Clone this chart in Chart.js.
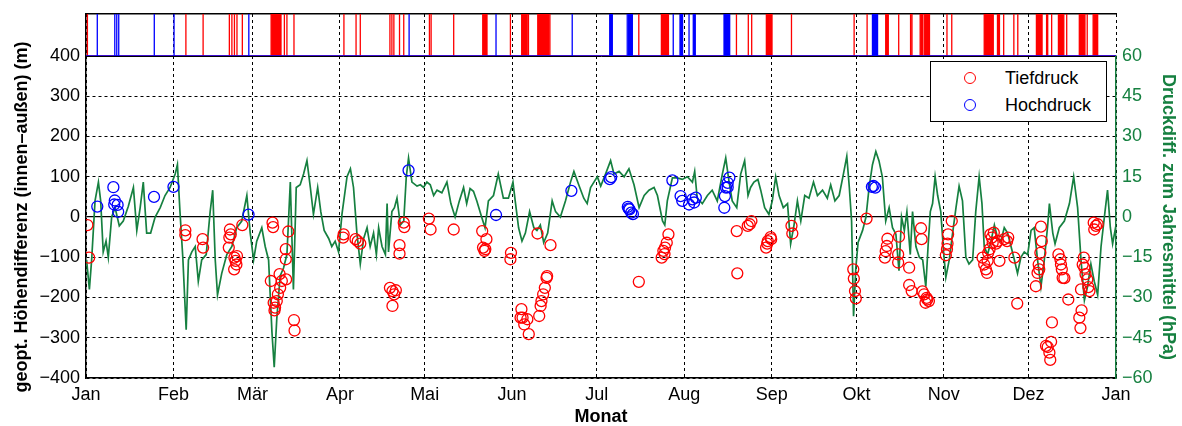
<!DOCTYPE html>
<html>
<head>
<meta charset="utf-8">
<script src="https://cdn.jsdelivr.net/npm/chart.js@4.4.1/dist/chart.umd.min.js"></script>
<style>
  body { margin: 0; background: #fff; }
  #wrap { position: relative; width: 1182px; height: 426px; }
  #legend { position: absolute; left: 930px; top: 61px; width: 177px; height: 61px; box-sizing: border-box;
            border: 1.5px solid #000; background: #fff; font: 18px "Liberation Sans", Arial, sans-serif; color: #000; }
  #legend .row { position: absolute; left: 0; height: 22px; line-height: 22px; }
  #legend .mk { position: absolute; left: 33px; top: 5px; width: 10px; height: 10px; border: 1.4px solid; border-radius: 50%; }
  #legend .txt { position: absolute; left: 74px; top: 0; white-space: nowrap; }
</style>
</head>
<body>
<div id="wrap">
  <canvas id="chart" width="1182" height="426"></canvas>
  <div id="legend">
    <div class="row" style="top:5px"><span class="mk" style="border-color:#ff0000"></span><span class="txt">Tiefdruck</span></div>
    <div class="row" style="top:32px"><span class="mk" style="border-color:#0000ff"></span><span class="txt">Hochdruck</span></div>
  </div>
</div>
<script>
const green = '#168040';
const font = '"Liberation Sans", Arial, sans-serif';

// month starts (day of year) and labels
const monthDays = [0, 31, 59, 90, 120, 151, 181, 212, 243, 273, 304, 334, 365];
const monthLabels = ['Jan', 'Feb', 'Mär', 'Apr', 'Mai', 'Jun', 'Jul', 'Aug', 'Sep', 'Okt', 'Nov', 'Dez', 'Jan'];
const leftTicks = [-400, -300, -200, -100, 0, 100, 200, 300, 400];
const rightTicks = [-60, -45, -30, -15, 0, 15, 30, 45, 60];

// top strip: event periods [start day, end day]
const lowPeriods = [
  [0.5, 0.5], [35.4, 35.4], [41.5, 41.5], [50.8, 50.8], [51.7, 51.7], [52.6, 52.6], [53.5, 53.5], [55.4, 55.4],
  [65.6, 69.1], [70.3, 70.3], [71.2, 71.2], [73.7, 73.7], [91.4, 91.4], [95.7, 95.7], [97.2, 97.2],
  [107.7, 107.7], [108.4, 108.4], [109.1, 109.1], [111.1, 111.1], [112.6, 112.6], [121.7, 121.7], [122.3, 122.3],
  [130.3, 130.3], [140.6, 142.1], [150.4, 150.4], [154.4, 156.3], [156.8, 156.8], [160.1, 163.9], [164.4, 164.4],
  [195.9, 195.9], [203.9, 206.4], [230.5, 230.5], [234.7, 234.7], [235.9, 235.9], [241.1, 243.1], [250.0, 250.0],
  [272.2, 272.2], [276.8, 276.8], [283.4, 284.3], [288.0, 288.0], [292.2, 292.2], [292.7, 292.7], [295.6, 296.4],
  [297.0, 298.9], [305.1, 305.1], [306.8, 306.8], [318.3, 321.5], [323.0, 323.7], [325.2, 325.2], [328.8, 328.8],
  [330.2, 330.2], [336.8, 338.8], [340.4, 340.8], [342.2, 342.2], [344.6, 346.5], [347.4, 347.6], [352.0, 354.0],
  [354.8, 354.8], [356.9, 358.5]
];
const highPeriods = [
  [4.0, 4.0], [10.2, 10.2], [10.9, 10.9], [11.6, 11.6], [24.2, 24.2], [31.2, 31.2], [57.7, 57.7], [114.5, 114.5],
  [145.3, 145.3], [172.3, 172.3], [185.6, 186.5], [191.8, 191.8], [192.3, 193.6], [208.1, 208.1], [210.5, 211.4],
  [213.7, 213.7], [215.2, 215.9], [226.1, 228.1], [278.7, 280.5]
];

// geopotential height difference (m) at low / high pressure situations: [day, m]
const lowPoints = [
  [0.5, -20], [1.1, -101], [35.2, -33], [35.2, -45], [41.3, -55], [41.5, -76],
  [51.0, -31], [50.8, -51], [50.6, -76], [51.3, -43], [52.6, -101], [53.0, -109], [52.5, -130], [53.3, -118], [53.5, -97],
  [55.4, -20], [66.1, -14], [66.3, -25], [65.5, -159], [66.5, -213], [67.0, -225], [67.6, -209], [68.0, -192],
  [68.6, -142], [69.4, -159], [70.9, -155], [66.8, -232], [68.8, -176], [70.8, -80], [70.8, -105], [71.7, -36],
  [73.7, -256], [73.9, -282], [91.3, -43], [91.1, -51], [95.5, -55], [96.3, -60], [97.2, -66],
  [107.7, -176], [108.6, -184], [109.8, -182], [109.2, -192], [108.6, -221], [111.1, -70], [111.1, -91],
  [112.6, -14], [112.8, -25], [121.5, -4], [122.1, -31], [130.3, -31],
  [140.4, -35], [141.9, -55], [140.7, -76], [141.2, -84], [141.5, -80], [150.6, -89], [150.4, -105],
  [154.3, -229], [154.7, -250], [155.3, -267], [156.9, -291], [154.0, -250], [156.4, -254],
  [160.6, -246], [161.1, -221], [161.4, -209], [162.0, -192], [162.6, -176], [163.2, -151], [163.4, -147],
  [160.0, -41], [164.6, -70], [195.9, -161],
  [204.0, -101], [204.6, -84], [205.2, -76], [205.8, -64], [206.4, -43], [205.0, -92],
  [230.6, -35], [230.8, -140], [234.5, -22], [235.8, -10], [235.2, -18],
  [241.0, -76], [241.6, -60], [242.6, -50], [241.4, -66], [242.8, -55], [250.0, -22], [250.3, -41],
  [271.9, -130], [272.1, -153], [272.5, -184], [272.8, -202], [276.6, -4],
  [284.0, -54], [283.4, -85], [283.1, -101], [283.8, -72], [288.1, -49], [287.8, -93], [287.8, -113],
  [291.7, -126], [291.7, -169], [292.6, -184], [295.9, -28], [296.1, -55],
  [296.4, -185], [297.0, -192], [297.9, -201], [298.7, -209], [297.5, -213], [298.1, -205],
  [306.8, -10], [305.5, -43], [305.3, -66], [305.1, -80], [304.7, -95],
  [317.7, -101], [318.3, -118], [318.9, -130], [319.3, -139], [319.5, -109], [319.7, -89],
  [320.5, -43], [321.0, -51], [321.3, -64], [321.7, -39], [322.5, -66], [323.1, -60], [323.7, -109], [320.2, -80],
  [325.4, -55], [326.4, -60], [326.8, -51], [329.0, -101], [330.0, -215],
  [338.4, -24], [338.7, -60], [338.2, -89], [337.6, -118], [337.2, -139], [336.6, -172], [337.8, -130],
  [342.3, -262], [342.0, -310], [340.8, -323], [341.4, -337], [341.7, -355], [340.2, -320],
  [344.6, -93], [345.3, -105], [345.5, -118], [345.8, -130], [346.1, -151], [346.7, -152], [348.1, -205],
  [353.6, -101], [353.2, -118], [353.8, -126], [354.2, -142], [354.8, -155], [355.2, -174], [355.6, -184],
  [352.6, -180], [352.0, -250], [352.4, -276], [352.8, -232],
  [357.1, -14], [357.9, -22], [358.5, -18], [357.3, -31]
];
const highPoints = [
  [4.0, 26], [9.7, 74], [10.2, 41], [10.0, 31], [11.2, 30], [11.4, 13], [24.1, 50], [31.0, 75], [57.6, 6],
  [114.3, 116], [145.3, 5], [172.0, 65], [185.6, 94], [186.1, 99],
  [192.0, 25], [192.6, 19], [193.2, 11], [193.8, 7], [192.3, 21], [207.8, 91],
  [210.7, 52], [211.3, 40], [213.7, 31], [215.5, 36], [216.1, 48], [214.9, 44],
  [226.2, 23], [226.4, 52], [226.8, 73], [227.4, 85], [228.0, 98], [227.4, 74],
  [279.1, 77], [279.7, 73], [278.5, 75]
];

// pressure difference to annual mean (hPa): [day, hPa]
const pressure = [
  [0.2, -16], [1.2, -27], [2.0, -16], [3.2, 6], [4.4, 13], [5.2, 6], [6.1, -13], [7.1, -9], [7.9, -15], [9.1, 0],
  [10.3, 3.5], [11.8, -3.3], [13.2, -1.5], [15.0, 4], [16.8, 11], [18.0, -5], [19.2, 3.5], [20.3, 13], [21.5, -6],
  [22.9, -6], [24.5, 0], [26.3, 3.5], [28.0, 8], [29.8, 11], [31.6, 16], [32.4, 19.5], [33.3, 2], [34.3, -15],
  [35.5, -42], [36.3, -16], [37.5, -13], [38.7, -11], [39.8, -24], [41.0, -16], [42.6, -14], [44.0, 2], [44.9, 10],
  [45.8, -16], [46.6, -29], [48.1, -21], [49.9, -14], [51.7, -11], [53.4, -4], [55.2, -1.5], [57.0, 8], [58.2, -6],
  [59.4, -16], [60.5, -9], [62.3, -4], [63.5, -11], [64.7, -16], [65.9, -43], [66.7, -56], [67.6, -38], [68.8, -22],
  [70.0, -19], [71.2, -14], [72.4, 13], [73.5, -27], [74.5, 11], [75.9, 12], [77.1, 16], [78.3, 21], [79.5, 11],
  [80.6, 1], [82.1, 11], [83.2, 2], [84.4, -5], [86.0, -8], [87.1, -11], [88.3, -9], [89.5, -13], [90.7, 1],
  [92.5, 15], [93.7, 18], [94.8, 11], [96.0, -6], [97.2, -17.5], [98.4, -8], [99.6, -4], [100.7, -11], [101.9, -6],
  [102.9, -14], [103.7, -4], [104.9, -11], [106.1, -14], [106.7, 5], [107.2, -13], [108.4, 2], [109.3, 3.5],
  [110.2, 7], [111.4, -3], [112.6, -1.5], [113.5, 15], [114.3, 22], [115.5, 13], [117.3, 11.5], [118.5, 12],
  [119.6, 11], [120.8, 13], [122.0, 12], [123.2, 8], [124.4, 10], [126.1, 9], [127.9, 13], [129.3, 5], [130.8, 0],
  [132.3, 6], [133.8, 11], [134.9, 5], [136.1, 10.6], [137.3, 9.6], [138.5, 6], [140.2, 0], [141.4, -4], [142.6, 6],
  [144.4, 8], [146.1, 16], [147.9, 7], [149.7, 7], [151.3, 13], [152.1, 6], [153.3, -4], [154.5, -9], [155.7, -6],
  [157.2, 2], [158.7, -4], [159.8, -5], [161.0, -3], [162.2, -9.5], [163.6, -6], [165.2, 6], [166.4, 2], [168.1, 0],
  [169.9, 6], [171.7, 13], [172.9, 17], [174.6, 12], [176.4, 7], [177.6, 5], [178.8, 11], [180.0, 13], [181.2, 15],
  [182.4, 11.5], [184.1, 16], [185.9, 21], [187.1, 16], [188.9, 17], [190.7, 15], [192.4, 18], [194.2, 12],
  [196.0, 3.5], [197.8, 8], [199.5, 10], [201.3, 11], [202.5, 8], [204.3, -1.5], [205.1, -3], [206.0, 6],
  [207.8, 14.6], [209.5, 14.6], [211.3, 14], [213.1, 15], [214.9, 13], [215.7, 17], [216.6, 7], [218.4, 5],
  [220.2, 8], [221.9, 10], [223.7, 6], [225.5, 16], [226.7, 22], [227.9, 13], [229.0, 6], [230.6, 3.5], [232.0, 16],
  [233.4, 21], [234.6, 8], [235.5, 11], [236.7, 13], [238.1, 14], [239.1, 10], [240.5, 3.5], [242.0, 1], [243.2, 6],
  [244.4, 15], [245.6, 8], [247.1, 3.5], [248.6, 5], [249.7, -10], [250.9, -3], [252.1, 6], [253.3, -1.5],
  [254.7, 8], [256.2, 7], [257.8, 13], [259.2, 8], [261.0, 10], [262.7, 7], [263.9, 12], [265.4, 6], [266.9, 8],
  [268.4, 16], [269.6, 22.6], [270.5, 11], [271.3, -1.5], [272.0, -37], [272.8, -19], [273.6, -9.5], [275.2, -5],
  [276.4, 0], [277.5, 11], [278.7, 19.5], [279.9, 24.4], [281.0, 21], [282.2, 15], [283.4, -1.5], [284.6, 3.5],
  [285.8, -4], [287.0, -6.4], [288.1, -20], [289.0, 0], [290.0, -5], [290.9, 2], [292.1, -14], [292.9, 2],
  [294.1, -11], [295.3, -15], [296.5, -16], [297.6, -26], [298.4, -11], [299.2, 2], [300.0, 5], [300.9, 15],
  [301.8, 8], [302.9, 2], [303.9, -13], [304.7, -22.5], [305.9, -16], [307.1, -6], [308.3, 3.5], [309.4, 11.5],
  [310.6, 6], [311.8, -15], [312.9, -17.5], [314.2, -16], [315.3, 2], [316.5, 15], [317.5, 5], [318.3, -11],
  [319.5, -14], [320.7, -9], [321.9, -3], [323.1, -8], [324.2, -9], [325.4, -4], [326.6, -6], [327.8, -11],
  [329.0, -16], [330.1, -21], [331.3, -15], [332.5, -13], [333.7, -14], [334.9, -5], [336.0, -4], [337.2, -16],
  [338.4, -26], [339.6, -16], [340.8, -3], [341.4, 5], [342.6, -6], [343.4, -10], [344.9, -4], [346.7, -1.5],
  [348.5, 5], [350.0, 15], [351.4, 3.5], [352.6, -16], [353.8, -31], [354.9, -26], [356.1, -17.5], [357.3, -24],
  [358.5, -29], [359.7, -11], [361.1, 2], [362.0, 10], [363.0, -4], [363.8, -10], [365.0, -3]
];

const xy = arr => arr.map(([x, y]) => ({x, y}));
const minus = v => String(v).replace('-', '\u2212');

// rectangles 0..1 on the strip axis, one polyline per colour
function stripLine(periods) {
  const pts = [{x: 0, y: 0}];
  periods.forEach(([a, b]) => {
    pts.push({x: a, y: 0}, {x: a, y: 1}, {x: b, y: 1}, {x: b, y: 0});
  });
  pts.push({x: 365, y: 0});
  return pts;
}

const dashed = ctx => (ctx.tick && (ctx.tick.value === 0 || ctx.tick.value === 400)) ? [] : [3, 3];
// fixed box sizes, no extra padding from overhanging labels
const fixW = w => s => { s.width = w; s.paddingTop = 0; s.paddingBottom = 0; };

new Chart(document.getElementById('chart'), {
  type: 'scatter',
  data: {
    datasets: [
      {type: 'line', data: xy(pressure), yAxisID: 'y2', borderColor: green, borderWidth: 1.7,
       pointRadius: 0, tension: 0, order: 3},
      {label: 'Tiefdruck', data: xy(lowPoints), yAxisID: 'y', borderColor: '#ff0000', backgroundColor: 'rgba(0,0,0,0)',
       pointRadius: 5.5, borderWidth: 1.3, order: 2},
      {label: 'Hochdruck', data: xy(highPoints), yAxisID: 'y', borderColor: '#0000ff', backgroundColor: 'rgba(0,0,0,0)',
       pointRadius: 5.5, borderWidth: 1.3, order: 1},
      {type: 'line', data: stripLine(lowPeriods), yAxisID: 'ys', borderColor: '#ff0000', backgroundColor: '#ff0000',
       borderWidth: 1.3, pointRadius: 0, tension: 0, fill: {value: 0}, order: 5},
      {type: 'line', data: stripLine(highPeriods), yAxisID: 'ys', borderColor: '#0000ff', backgroundColor: '#0000ff',
       borderWidth: 1.3, pointRadius: 0, tension: 0, fill: {value: 0}, order: 4}
    ]
  },
  options: {
    responsive: false,
    animation: false,
    devicePixelRatio: 1,
    layout: {padding: {top: 14, left: 0, right: 0, bottom: 0}},
    plugins: {legend: {display: false}, tooltip: {enabled: false}},
    scales: {
      xt: {
        type: 'linear', position: 'top', min: 0, max: 365,
        ticks: {display: false}, grid: {display: false},
        border: {color: '#000', width: 1.5},
        afterFit: s => { s.height = 0; s.paddingLeft = 0; s.paddingRight = 0; }
      },
      x: {
        type: 'linear', min: 0, max: 365,
        afterBuildTicks: s => { s.ticks = monthDays.map(v => ({value: v})); },
        ticks: {autoSkip: false, maxRotation: 0, padding: 6, color: '#000', font: {family: font, size: 18},
                callback: (v, i) => monthLabels[i]},
        grid: {color: '#000', lineWidth: 1, drawTicks: false},
        border: {color: '#000', width: 1.5, dash: [3, 3]},
        title: {display: true, text: 'Monat', color: '#000', font: {family: font, size: 18, weight: 'bold', lineHeight: 1},
                padding: {top: 0, bottom: 0}},
        afterFit: s => { s.height = 48; s.paddingLeft = 0; s.paddingRight = 0; }
      },
      // left boxes are laid out in reverse order, so the main axis comes first
      y: {
        position: 'left', stack: 'left', stackWeight: 322, min: -400, max: 400,
        afterBuildTicks: s => { s.ticks = leftTicks.map(v => ({value: v})); },
        ticks: {autoSkip: false, padding: 6, color: '#000', font: {family: font, size: 18}, callback: v => minus(v)},
        grid: {color: '#000', lineWidth: ctx => (ctx.tick && ctx.tick.value === 0) ? 1.3 : 1, drawTicks: false},
        border: {color: '#000', width: 1.5, dash: dashed},
        title: {display: true, text: 'geopt. Höhendifferenz (innen–außen) (m)', color: '#000',
                font: {family: font, size: 18, weight: 'bold'}, padding: {top: 11, bottom: 0}},
        afterFit: fixW(86)
      },
      ys: {
        position: 'left', stack: 'left', stackWeight: 42, min: 0, max: 1,
        ticks: {display: false}, grid: {display: false},
        border: {color: '#000', width: 1.5},
        afterFit: fixW(86)
      },
      ys2: {
        position: 'right', stack: 'right', stackWeight: 42, min: 0, max: 1,
        display: false,
        afterFit: fixW(66)
      },
      y2: {
        position: 'right', stack: 'right', stackWeight: 322, min: -60, max: 60,
        afterBuildTicks: s => { s.ticks = rightTicks.map(v => ({value: v})); },
        ticks: {autoSkip: false, padding: 6, color: green, font: {family: font, size: 18}, callback: v => minus(v)},
        grid: {drawOnChartArea: false, drawTicks: false},
        border: {color: green, width: 1.5},
        title: {display: true, text: 'Druckdiff. zum Jahresmittel (hPa)', color: green,
                font: {family: font, size: 18, weight: 'bold'}, padding: {top: 3, bottom: 0}},
        afterFit: fixW(66)
      }
    }
  }
});
</script>
</body>
</html>
